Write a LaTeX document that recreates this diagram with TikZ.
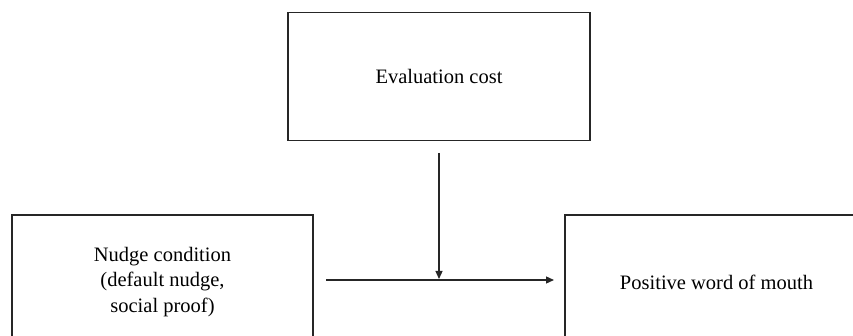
\documentclass[tikz,border=0pt]{standalone}
\usepackage{fontspec}
\setmainfont{Liberation Serif}
\usetikzlibrary{arrows.meta}
\begin{document}
\begin{tikzpicture}[x=1pt,y=-1pt,
  box/.style={draw=black!85,line width=1.4pt,inner sep=0pt,align=center,
    font=\fontsize{20.5}{25.5}\selectfont},
  conn/.style={draw=black!85,line width=1.3pt,-{Triangle[length=8pt,width=7pt]}}]
\useasboundingbox (0,0) rectangle (853,336);
\clip (0,0) rectangle (853,336);
\node[box,minimum width=302,minimum height=128] (cost) at (439,76.5) {Evaluation cost};
\node[box,minimum width=301,minimum height=134] (nudge) at (162.5,282) {Nudge condition\\(default nudge,\\social proof)};
\node[box,minimum width=303,minimum height=134] (wom) at (716.5,282) {Positive word of mouth};
\coordinate (hs) at (326,280);
\coordinate (he) at (554,280);
\coordinate (vs) at (439,153);
\coordinate (ve) at (439,279);
\draw[conn] (hs) -- (he);
\draw[conn] (vs) -- (ve);
\end{tikzpicture}
\end{document}
